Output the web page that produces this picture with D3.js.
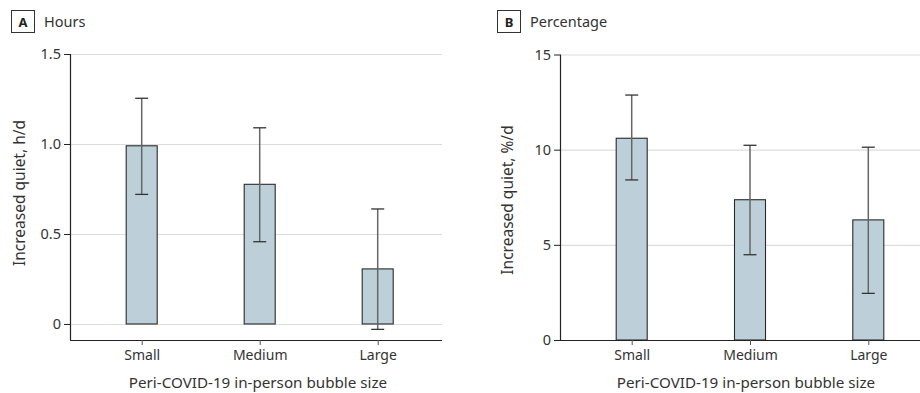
<!DOCTYPE html>
<html>
<head>
<meta charset="utf-8">
<script src="https://cdn.jsdelivr.net/npm/d3@7"></script>
<style>
  html, body { margin: 0; padding: 0; background: #fff; }
  svg { display: block; font-family: "Noto Sans", "Open Sans", sans-serif; }
</style>
</head>
<body>
<svg id="chart" width="920" height="393"></svg>
<script>
// Bubble size groups shared by both panels
const categories = ["Small", "Medium", "Large"];

// Panel A: increased quiet, hours per day (mean with 95% CI)
const hoursMean  = [0.99, 0.776, 0.306];
const hoursLower = [0.72, 0.457, -0.03];
const hoursUpper = [1.254, 1.09, 0.639];
const hoursTicks = [0, 0.5, 1.0, 1.5];

// Panel B: increased quiet, percent per day (mean with 95% CI)
const pctMean  = [10.6, 7.37, 6.31];
const pctLower = [8.41, 4.48, 2.45];
const pctUpper = [12.87, 10.23, 10.13];
const pctTicks = [0, 5, 10, 15];

const svg = d3.select("#chart");
const textColor = "#333";
const axisColor = "#222";
const gridColor = "#dddddd";
const barFill = "#bdd0d9";

function drawPanel(cfg) {
  const g = svg.append("g");
  const { left, right, top, bottom } = cfg.box;

  const y = d3.scaleLinear().domain(cfg.domain).range([bottom, top]);
  const x = d3.scalePoint().domain(categories).range(cfg.xRange);

  // horizontal gridlines
  g.selectAll("line.grid").data(cfg.ticks).join("line")
    .attr("x1", left).attr("x2", right)
    .attr("y1", d => y(d) + 0.5).attr("y2", d => y(d) + 0.5)
    .attr("stroke", gridColor).attr("stroke-width", 1.2);

  // bars
  const bw = 31;
  g.selectAll("rect.bar").data(cfg.mean).join("rect")
    .attr("x", (d, i) => x(categories[i]) - bw / 2)
    .attr("width", bw)
    .attr("y", d => y(d))
    .attr("height", d => y(0) - y(d))
    .attr("fill", barFill)
    .attr("stroke", "#2a2a2a").attr("stroke-width", 1.1);

  // error bars
  const cap = 6.5;
  const eb = g.selectAll("g.err").data(cfg.mean).join("g");
  eb.append("line")
    .attr("x1", (d, i) => x(categories[i])).attr("x2", (d, i) => x(categories[i]))
    .attr("y1", (d, i) => y(cfg.upper[i])).attr("y2", (d, i) => y(cfg.lower[i]))
    .attr("stroke", "#666").attr("stroke-width", 1.5);
  eb.append("line")
    .attr("x1", (d, i) => x(categories[i]) - cap).attr("x2", (d, i) => x(categories[i]) + cap)
    .attr("y1", (d, i) => y(cfg.upper[i])).attr("y2", (d, i) => y(cfg.upper[i]))
    .attr("stroke", "#333").attr("stroke-width", 1.3);
  eb.append("line")
    .attr("x1", (d, i) => x(categories[i]) - cap).attr("x2", (d, i) => x(categories[i]) + cap)
    .attr("y1", (d, i) => y(cfg.lower[i])).attr("y2", (d, i) => y(cfg.lower[i]))
    .attr("stroke", "#333").attr("stroke-width", 1.3);

  // y axis
  const yAxis = g.append("g")
    .attr("transform", `translate(${left},0)`)
    .call(d3.axisLeft(y).tickValues(cfg.ticks).tickFormat(cfg.fmt).tickSize(6).tickSizeOuter(0));
  yAxis.select(".domain").attr("d", `M0.5,${top}V${bottom}`).attr("stroke", axisColor).attr("stroke-width", 1.2);
  yAxis.selectAll(".tick line").attr("stroke", axisColor);
  yAxis.selectAll(".tick text").attr("x", -9).attr("fill", textColor)
    .style("font-size", "14.5px").style("font-family", "Noto Sans");

  // x axis
  const xAxis = g.append("g")
    .attr("transform", `translate(0,${bottom})`)
    .call(d3.axisBottom(x).tickSize(5).tickSizeOuter(0));
  xAxis.select(".domain").attr("d", `M${left},0.5H${right}`).attr("stroke", axisColor).attr("stroke-width", 1.2);
  xAxis.selectAll(".tick line").attr("stroke", "#555");
  xAxis.selectAll(".tick text").attr("y", 10).attr("fill", textColor)
    .style("font-size", "14px").style("font-family", "Noto Sans");

  // axis titles
  g.append("text")
    .attr("x", (left + right) / 2 + cfg.xTitleShift).attr("y", 388)
    .attr("text-anchor", "middle").attr("fill", textColor)
    .style("font-size", "15.2px")
    .text("Peri-COVID-19 in-person bubble size");
  g.append("text")
    .attr("transform", `translate(${cfg.yTitleX},${cfg.yTitleY}) rotate(-90)`)
    .attr("text-anchor", "middle").attr("fill", textColor)
    .style("font-size", "15.5px")
    .text(cfg.yTitle);

  // panel label box and name
  g.append("rect")
    .attr("x", cfg.labelX + 0.5).attr("y", 10.5).attr("width", 23).attr("height", 22)
    .attr("fill", "#fff").attr("stroke", "#333").attr("stroke-width", 1);
  g.append("text")
    .attr("x", cfg.labelX + 12).attr("y", 26.5)
    .attr("text-anchor", "middle").attr("fill", "#222")
    .style("font-size", "13px").style("font-weight", "bold")
    .text(cfg.letter);
  g.append("text")
    .attr("x", cfg.labelX + 33).attr("y", 27)
    .attr("fill", textColor).style("font-size", "14.5px")
    .text(cfg.name);
}

drawPanel({
  box: { left: 70, right: 442, top: 54, bottom: 340 },
  domain: [-0.089, 1.5],
  xRange: [141.7, 377.7],
  ticks: hoursTicks,
  fmt: d => d === 0 ? "0" : d3.format(".1f")(d),
  mean: hoursMean, lower: hoursLower, upper: hoursUpper,
  yTitle: "Increased quiet, h/d",
  yTitleX: 25, yTitleY: 193,
  xTitleShift: 2,
  letter: "A", name: "Hours", labelX: 11
});

drawPanel({
  box: { left: 560, right: 920, top: 54.5, bottom: 340 },
  domain: [0, 15],
  xRange: [631.7, 868.3],
  ticks: pctTicks,
  fmt: d3.format("d"),
  mean: pctMean, lower: pctLower, upper: pctUpper,
  yTitle: "Increased quiet, %/d",
  yTitleX: 513, yTitleY: 200,
  xTitleShift: 6,
  letter: "B", name: "Percentage", labelX: 497
});
</script>
</body>
</html>
